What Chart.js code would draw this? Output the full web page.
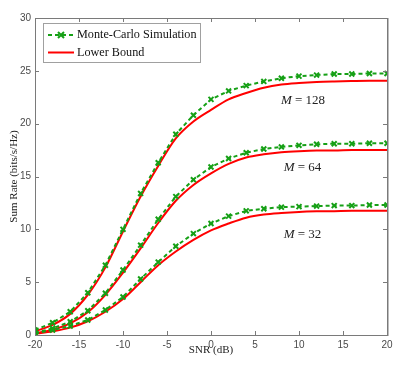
<!DOCTYPE html>
<html>
<head>
<meta charset="utf-8">
<script src="https://cdn.jsdelivr.net/npm/chart.js@4/dist/chart.umd.min.js"></script>
<style>
html,body{margin:0;padding:0;background:#fff;}
#wrap{width:406px;height:366px;position:relative;}
</style>
</head>
<body>
<div id="wrap"><canvas id="c" width="406" height="366"></canvas></div>
<script>
// SNR (dB) sample points
const snr = [-20,-18,-16,-14,-12,-10,-8,-6,-4,-2,0,2,4,6,8,10,12,14,16,18,20];
// Monte-Carlo simulation
const mc128 = [0.47,1.16,2.2,4.0,6.6,10.0,13.4,16.3,19.0,20.8,22.3,23.1,23.6,24.0,24.3,24.5,24.6,24.7,24.7,24.75,24.75];
const mc64  = [0.2,0.63,1.26,2.3,3.95,6.15,8.5,10.95,13.1,14.7,15.9,16.7,17.25,17.6,17.8,17.95,18.05,18.1,18.1,18.15,18.15];
const mc32  = [0.15,0.47,0.85,1.42,2.37,3.6,5.3,6.9,8.4,9.6,10.55,11.25,11.75,11.95,12.1,12.15,12.2,12.25,12.25,12.3,12.3];
// Lower bound
const lb128 = [0.35,0.95,2.0,3.8,6.4,9.8,13.1,16.0,18.6,20.2,21.3,22.3,22.9,23.4,23.7,23.85,23.95,24.0,24.03,24.05,24.05];
const lb64  = [0.15,0.5,1.1,2.15,3.8,5.9,8.2,10.6,12.7,14.2,15.3,16.2,16.8,17.1,17.3,17.4,17.45,17.45,17.5,17.5,17.5];
const lb32  = [0.1,0.35,0.7,1.3,2.2,3.4,5.0,6.6,7.9,9.0,9.9,10.55,11.1,11.4,11.55,11.65,11.7,11.72,11.75,11.75,11.75];
// Annotations
const antennaLabels = ['128','64','32'];
const legendLabels = ['Monte-Carlo Simulation','Lower Bound'];
const xTitle = 'SNR (dB)';
const yTitle = 'Sum Rate (bits/s/Hz)';

const GREEN = 'rgb(22,160,22)';
const RED = 'rgb(255,0,0)';
const pts = arr => snr.map((x,i)=>({x:x,y:arr[i]}));

function mcSet(arr){
  return {data:pts(arr), borderColor:GREEN, backgroundColor:GREEN, borderWidth:2, borderDash:[4,3],
    pointStyle:'crossRot', pointRadius:3.5, pointBorderWidth:2, pointBorderColor:GREEN, tension:0};
}
function lbSet(arr){
  return {data:pts(arr), borderColor:RED, backgroundColor:RED, borderWidth:2, pointRadius:0,
    cubicInterpolationMode:'monotone'};
}

// positions of the "M = ..." labels (data coordinates)
const labelPos = [{x:10.45,y:22.2},{x:10.4,y:15.8},{x:10.4,y:9.55}];

const framePlugin = {
  id:'frame',
  afterDatasetsDraw(chart){
    const ctx = chart.ctx, a = chart.chartArea;
    const xs = chart.scales.x, ys = chart.scales.y;
    ctx.save();
    ctx.strokeStyle = '#7a7a7a';
    ctx.lineWidth = 1;
    ctx.beginPath();
    xs.ticks.forEach(t=>{
      const px = Math.round(xs.getPixelForValue(t.value))+0.5;
      ctx.moveTo(px,a.bottom); ctx.lineTo(px,a.bottom-4);
      ctx.moveTo(px,a.top); ctx.lineTo(px,a.top+4);
    });
    ys.ticks.forEach(t=>{
      const py = Math.round(ys.getPixelForValue(t.value))+0.5;
      ctx.moveTo(a.left,py); ctx.lineTo(a.left+4,py);
      ctx.moveTo(a.right,py); ctx.lineTo(a.right-4,py);
    });
    ctx.stroke();
    ctx.strokeRect(Math.round(a.left)+0.5, Math.round(a.top)+0.5, Math.round(a.right-a.left), Math.round(a.bottom-a.top));
    ctx.strokeStyle = '#bdbdbd';
    ctx.lineWidth = 1;
    ctx.beginPath();
    ctx.moveTo(Math.round(a.right)+1.5,a.top); ctx.lineTo(Math.round(a.right)+1.5,a.bottom+1);
    ctx.stroke();

    // M labels
    ctx.fillStyle = '#222';
    ctx.textBaseline = 'middle';
    labelPos.forEach((p,i)=>{
      const cx = xs.getPixelForValue(p.x), cy = ys.getPixelForValue(p.y);
      ctx.font = 'italic 13px "Liberation Serif"';
      const mW = ctx.measureText('M').width;
      ctx.font = '13px "Liberation Serif"';
      const rest = ' = ' + antennaLabels[i];
      const rW = ctx.measureText(rest).width;
      const x0 = cx - (mW+rW)/2;
      ctx.font = 'italic 13px "Liberation Serif"';
      ctx.textAlign = 'left';
      ctx.fillText('M', x0, cy);
      ctx.font = '13px "Liberation Serif"';
      ctx.fillText(rest, x0+mW, cy);
    });

    // legend box
    const lx = a.left+8, ly = a.top+5, lw = 157, lh = 39;
    ctx.fillStyle = '#fff';
    ctx.fillRect(lx,ly,lw,lh);
    ctx.strokeStyle = '#a0a0a0';
    ctx.lineWidth = 1;
    ctx.strokeRect(lx+0.5,ly+0.5,lw,lh);
    const r1 = ly+12, r2 = ly+29.5;
    ctx.strokeStyle = GREEN; ctx.lineWidth = 2;
    ctx.setLineDash([4,3]);
    ctx.beginPath(); ctx.moveTo(lx+5,r1); ctx.lineTo(lx+31,r1); ctx.stroke();
    ctx.setLineDash([]);
    const mx = lx+18, ms = 3;
    ctx.beginPath();
    ctx.moveTo(mx-ms,r1-ms); ctx.lineTo(mx+ms,r1+ms);
    ctx.moveTo(mx+ms,r1-ms); ctx.lineTo(mx-ms,r1+ms);
    ctx.stroke();
    ctx.strokeStyle = RED;
    ctx.beginPath(); ctx.moveTo(lx+5,r2); ctx.lineTo(lx+31,r2); ctx.stroke();
    ctx.fillStyle = '#111';
    ctx.font = '12.2px "Liberation Serif"';
    ctx.textAlign = 'left'; ctx.textBaseline = 'middle';
    ctx.fillText(legendLabels[0], lx+34, r1);
    ctx.fillText(legendLabels[1], lx+34, r2);
    ctx.restore();
  }
};

new Chart(document.getElementById('c'), {
  type:'line',
  data:{datasets:[mcSet(mc128),mcSet(mc64),mcSet(mc32),lbSet(lb128),lbSet(lb64),lbSet(lb32)]},
  options:{
    responsive:false, animation:false,
    layout:{padding:{top:18,right:19,left:0,bottom:0}},
    plugins:{legend:{display:false},tooltip:{enabled:false}},
    scales:{
      x:{type:'linear',min:-20,max:20,
        ticks:{stepSize:5,padding:4,color:'#4a4a4a',font:{family:'"Liberation Sans"',size:10},maxRotation:0},
        grid:{display:false,drawTicks:false}, border:{display:false},
        title:{display:true,text:xTitle,color:'#222',font:{family:'"Liberation Serif"',size:11},padding:{top:0,bottom:9}},
        afterFit(s){s.height=31;}
      },
      y:{type:'linear',min:0,max:30,
        ticks:{stepSize:5,padding:4,color:'#4a4a4a',font:{family:'"Liberation Sans"',size:10}},
        grid:{display:false,drawTicks:false}, border:{display:false},
        title:{display:true,text:yTitle,color:'#222',font:{family:'"Liberation Serif"',size:11},padding:{top:8,bottom:0}},
        afterFit(s){s.width=35;}
      }
    }
  },
  plugins:[framePlugin]
});
</script>
</body>
</html>
